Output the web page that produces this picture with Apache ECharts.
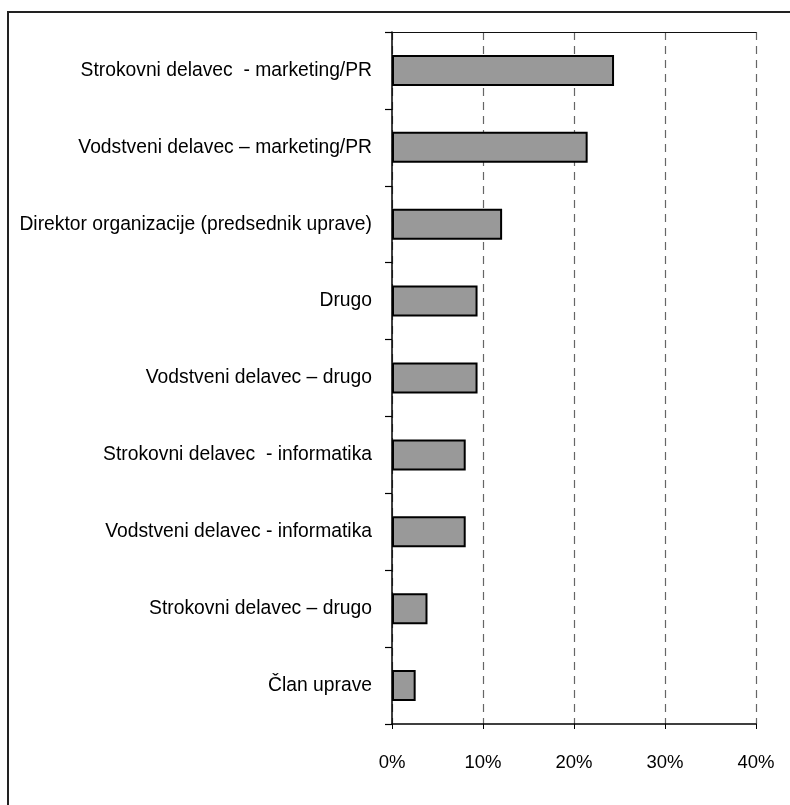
<!DOCTYPE html>
<html>
<head>
<meta charset="utf-8">
<script src="https://cdn.jsdelivr.net/npm/echarts@6/dist/echarts.min.js"></script>
<style>
html,body{margin:0;padding:0;background:#fff;}
#c{width:790px;height:805px;}
</style>
</head>
<body>
<div id="c"></div>
<script>
var categories = [
  "Strokovni delavec  - marketing/PR",
  "Vodstveni delavec – marketing/PR",
  "Direktor organizacije (predsednik uprave)",
  "Drugo",
  "Vodstveni delavec – drugo",
  "Strokovni delavec  - informatika",
  "Vodstveni delavec - informatika",
  "Strokovni delavec – drugo",
  "Član uprave"
];
var values = [24.4, 21.5, 12.1, 9.4, 9.4, 8.1, 8.1, 3.9, 2.6];
var xTicks = [0, 10, 20, 30, 40];

var chart = echarts.init(document.getElementById('c'), null, {renderer: 'canvas'});
var font = '"Liberation Sans", Arial, sans-serif';
chart.setOption({
  animation: false,
  backgroundColor: '#fff',
  graphic: [{
    type: 'rect',
    shape: {x: 8, y: 12, width: 820, height: 820},
    style: {fill: 'none', stroke: '#222', lineWidth: 2},
    silent: true
  }],
  grid: {left: 392, right: 34, top: 32, bottom: 81, containLabel: false},
  xAxis: [{
    type: 'value',
    min: xTicks[0],
    max: xTicks[xTicks.length - 1],
    interval: 10,
    position: 'bottom',
    axisLine: {show: true, lineStyle: {color: '#000', width: 1.5}},
    axisTick: {show: true, length: 5, lineStyle: {color: '#000'}},
    axisLabel: {
      formatter: function (v) { return v + '%'; },
      color: '#000', fontSize: 18.5, fontFamily: font, margin: 29
    },
    splitLine: {show: true, lineStyle: {color: '#666', type: [8, 6], width: 1.2}}
  }, {
    type: 'value',
    min: xTicks[0],
    max: xTicks[xTicks.length - 1],
    interval: 10,
    position: 'top',
    axisLine: {show: true, lineStyle: {color: '#111', width: 1.2}},
    axisTick: {show: false},
    axisLabel: {show: false},
    splitLine: {show: false}
  }],
  yAxis: {
    type: 'category',
    data: categories,
    inverse: true,
    axisLine: {show: true, lineStyle: {color: '#000', width: 1.5}},
    axisTick: {show: true, length: 7, alignWithLabel: false, lineStyle: {color: '#000', width: 1.2}},
    axisLabel: {color: '#000', fontSize: 19.3, fontFamily: font, margin: 20},
    splitLine: {show: false}
  },
  series: [{
    type: 'bar',
    data: values,
    xAxisIndex: 0,
    barWidth: 31,
    itemStyle: {color: '#999999', borderColor: '#000', borderWidth: 2}
  }]
});
</script>
</body>
</html>
